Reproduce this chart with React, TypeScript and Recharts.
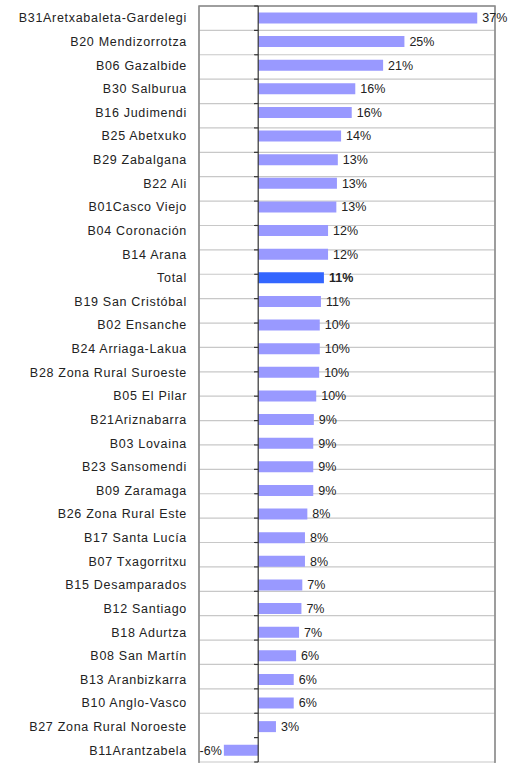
import { BarChart, Bar, XAxis, YAxis, CartesianGrid, ReferenceLine, ReferenceArea, LabelList, Cell } from "recharts";

const barrios = [
  "B31Aretxabaleta-Gardelegi", "B20 Mendizorrotza", "B06 Gazalbide", "B30 Salburua", "B16 Judimendi",
  "B25 Abetxuko", "B29 Zabalgana", "B22 Ali", "B01Casco Viejo", "B04 Coronación", "B14 Arana", "Total",
  "B19 San Cristóbal", "B02 Ensanche", "B24 Arriaga-Lakua", "B28 Zona Rural Suroeste", "B05 El Pilar",
  "B21Ariznabarra", "B03 Lovaina", "B23 Sansomendi", "B09 Zaramaga", "B26 Zona Rural Este", "B17 Santa Lucía",
  "B07 Txagorritxu", "B15 Desamparados", "B12 Santiago", "B18 Adurtza", "B08 San Martín", "B13 Aranbizkarra",
  "B10 Anglo-Vasco", "B27 Zona Rural Noroeste", "B11Arantzabela",
];
const pct = [
  37.0, 24.7, 21.1, 16.4, 15.8, 14.0, 13.45, 13.3, 13.2, 11.8, 11.8, 11.1,
  10.6, 10.4, 10.4, 10.3, 9.8, 9.4, 9.3, 9.3, 9.3, 8.3, 7.9,
  7.9, 7.45, 7.3, 6.9, 6.4, 6.0, 6.0, 3.0, -5.8,
];
const xTicks = [-10, 0, 10, 20, 30, 40];
const rowEdges = Array.from({ length: barrios.length + 1 }, (_, i) => i);

const data = barrios.map((name, i) => ({ name, pct: pct[i] }));
const FONT = "'Liberation Sans', Arial, sans-serif";

function PctLabel(props: any) {
  const { x, y, width, height, value, index } = props;
  const bold = barrios[index] === "Total";
  const left = Math.min(x, x + width);
  const right = Math.max(x, x + width);
  const neg = value < 0;
  return (
    <text
      x={neg ? left - 2 : right + 5}
      y={y + height / 2}
      dy="0.35em"
      textAnchor={neg ? "end" : "start"}
      fontSize={12.5}
      fontFamily={FONT}
      fontWeight={bold ? 700 : 400}
      fill="#222"
    >
      {Math.round(value)}%
    </text>
  );
}

export default function App() {
  return (
    <div style={{ position: "absolute", left: 0, top: 0, background: "#fff" }}>
      <BarChart
        width={518}
        height={763}
        data={data}
        layout="vertical"
        margin={{ top: 6, right: 23, bottom: 1, left: 0 }}
        barCategoryGap="27%"
      >
        <XAxis type="number" domain={[-10, 40]} ticks={xTicks} tick={false} tickLine={false} axisLine={false} height={0} />
        <YAxis
          dataKey="name"
          type="category"
          width={199}
          tickLine={false}
          axisLine={false}
          tickMargin={6}
          interval={0}
          tick={{ fontSize: 12.5, fill: "#222", fontFamily: FONT, letterSpacing: 0.7 }}
        />
        <YAxis yAxisId="grid" type="number" domain={[0, barrios.length]} ticks={rowEdges} hide />
        <CartesianGrid yAxisId="grid" stroke="#c8c8c8" strokeWidth={1.2} />
        <ReferenceArea yAxisId="grid" x1={-10} x2={40} y1={0} y2={barrios.length} fill="none" stroke="#888" strokeWidth={1.5} ifOverflow="visible" />
        <Bar dataKey="pct" isAnimationActive={false}>
          {data.map((d, i) => (
            <Cell key={`c-${i}`} fill={d.name === "Total" ? "#3366FF" : "#9999FF"} />
          ))}
          <LabelList dataKey="pct" content={PctLabel} />
        </Bar>
        <ReferenceLine x={0} stroke="#333" strokeWidth={1.2} />
        {rowEdges.map((e) => (
          <ReferenceLine
            key={`t-${e}`}
            yAxisId="grid"
            segment={[{ x: -0.7, y: e }, { x: 0, y: e }]}
            stroke="#333"
            strokeWidth={1.2}
          />
        ))}
      </BarChart>
    </div>
  );
}
